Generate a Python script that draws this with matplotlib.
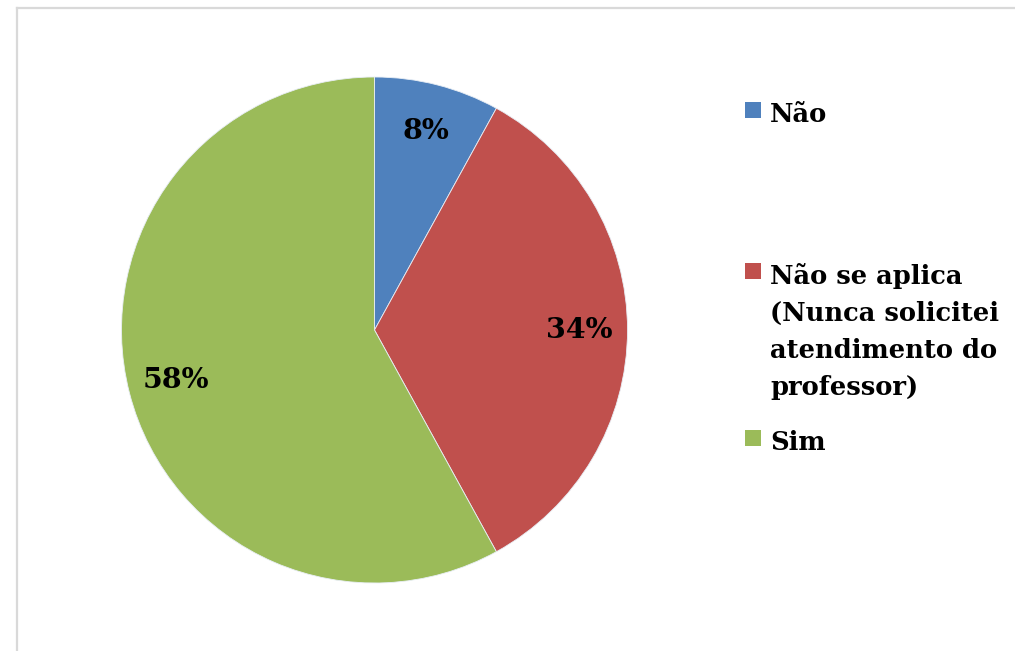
import matplotlib
matplotlib.use("Agg")
import matplotlib.pyplot as plt
from matplotlib.lines import Line2D
from matplotlib.patches import Rectangle

labels = ["Não", "Não se aplica\n(Nunca solicitei\natendimento do\nprofessor)", "Sim"]
shares = [8, 34, 58]
colors = ["#4F81BD", "#C0504D", "#9BBB59"]

W, H = 1015, 651
fig = plt.figure(figsize=(W / 100, H / 100), dpi=100)
fig.patch.set_facecolor("white")

# chart frame (only top and left edges visible in the crop)
fig.add_artist(Line2D([17 / W, 17 / W], [0, 1 - 8 / H], color="#d9d9d9", lw=1.6))
fig.add_artist(Line2D([17 / W, 1], [1 - 8 / H, 1 - 8 / H], color="#d9d9d9", lw=1.6))

# pie, centre (374.5, 330) px, radius 253 px
cx, cy, r = 374.5, 330, 253
ax = fig.add_axes([(cx - r) / W, (H - cy - r) / H, 2 * r / W, 2 * r / H])
ax.pie(shares, colors=colors, startangle=90, counterclock=False,
       autopct="%d%%", pctdistance=0.81,
       wedgeprops=dict(edgecolor="#e8eef5", linewidth=0.6),
       textprops=dict(family="DejaVu Serif", fontweight="bold", fontsize=20.5, color="black"))
ax.set_xlim(-1, 1); ax.set_ylim(-1, 1)
ax.axis("off")

# legend drawn by hand to keep Excel-like spacing
first_baselines = [121.7, 283.3, 450]
line_step = 37.2
for lab, col, yb in zip(labels, colors, first_baselines):
    n = lab.count("\n")
    fig.add_artist(Rectangle((745 / W, 1 - (yb - 4) / H), 16 / W, 16 / H,
                             facecolor=col, edgecolor="none"))
    # va="baseline" anchors the last line, so shift by the number of extra lines
    fig.text(770 / W, 1 - (yb + n * line_step) / H, lab, family="DejaVu Serif",
             fontweight="bold", fontsize=18.5, va="baseline", ha="left", linespacing=1.6)

plt.savefig("out.png", dpi=100)
